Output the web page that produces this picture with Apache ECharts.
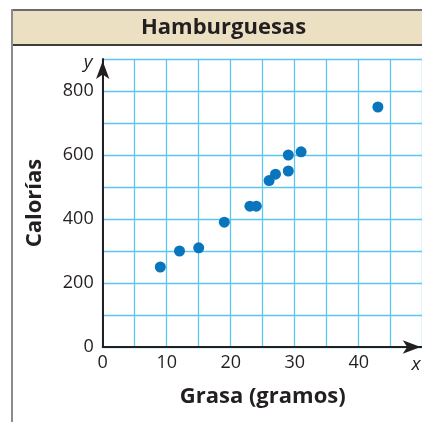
<!DOCTYPE html>
<html>
<head>
<meta charset="utf-8">
<script src="https://cdn.jsdelivr.net/npm/echarts@6/dist/echarts.min.js"></script>
<style>
  html, body { margin: 0; padding: 0; background: #ffffff; }
  #chart { width: 422px; height: 422px; }
</style>
</head>
<body>
<div id="chart"></div>
<script>
// Grasa (g) and calorías for each hamburguesa
const grasa = [9, 12, 15, 19, 23, 24, 26, 27, 29, 29, 31, 43];
const calorias = [250, 300, 310, 390, 440, 440, 520, 540, 600, 550, 610, 750];

const titulo = 'Hamburguesas';
const nombreX = 'Grasa (gramos)';
const nombreY = 'Calorías';
const etiquetasX = ['0', '10', '20', '30', '40'];
const etiquetasY = ['0', '200', '400', '600', '800'];

const FONT = '"Open Sans", "Noto Sans", sans-serif';
const INK = '#231f20';
const GRID = '#5cc6ef';

const puntos = grasa.map((g, i) => [g, calorias[i]]);

const chart = echarts.init(document.getElementById('chart'), null, { renderer: 'canvas' });

chart.setOption({
  animation: false,
  backgroundColor: '#ffffff',
  grid: { left: 102.7, top: 59, width: 320, height: 288, containLabel: false, outerBoundsMode: 'none' },
  xAxis: {
    type: 'value',
    min: 0, max: 50, interval: 5,
    name: nombreX,
    nameLocation: 'middle',
    nameGap: 39,
    nameTextStyle: { fontFamily: FONT, fontSize: 22, fontWeight: 'bold', color: INK },
    axisLine: { show: true, onZero: false, symbol: ['none', 'arrow'], symbolSize: [10, 18], symbolOffset: [0, -2],
      lineStyle: { color: INK, width: 2 } },
    axisTick: { show: false },
    axisLabel: {
      interval: 1, margin: 7, fontFamily: FONT, fontSize: 18, color: INK,
      formatter: v => etiquetasX.includes(String(v)) ? String(v) : ''
    },
    splitLine: { show: true, lineStyle: { color: GRID, width: 1.3 } }
  },
  yAxis: {
    type: 'value',
    min: 0, max: 900, interval: 100,
    name: nombreY,
    nameLocation: 'middle',
    nameGap: 57,
    nameRotate: 90,
    nameTextStyle: { fontFamily: FONT, fontSize: 22, fontWeight: 'bold', color: INK },
    axisLine: { show: true, onZero: false, symbol: ['none', 'arrow'], symbolSize: [10, 18], symbolOffset: [0, -2],
      lineStyle: { color: INK, width: 2 } },
    axisTick: { show: false },
    axisLabel: {
      interval: 1, margin: 9, fontFamily: FONT, fontSize: 18, color: INK,
      formatter: v => etiquetasY.includes(String(v)) ? String(v) : ''
    },
    splitLine: { show: true, lineStyle: { color: GRID, width: 1.3 } }
  },
  graphic: [
    // title band
    { type: 'rect', z: 1, shape: { x: 12, y: 10, width: 420, height: 35 },
      style: { fill: '#ebe0c2' } },
    { type: 'line', z: 2, shape: { x1: 12, y1: 10, x2: 422, y2: 10 },
      style: { stroke: '#6b6b6b', lineWidth: 2 } },
    { type: 'line', z: 2, shape: { x1: 12, y1: 45, x2: 422, y2: 45 },
      style: { stroke: '#3c3c3c', lineWidth: 2 } },
    { type: 'line', z: 2, shape: { x1: 12, y1: 9, x2: 12, y2: 422 },
      style: { stroke: '#8c8c8c', lineWidth: 2 } },
    { type: 'text', z: 3, x: 223.5, y: 28,
      style: { text: titulo, fontFamily: FONT, fontSize: 22, fontWeight: 'bold', fill: INK,
        align: 'center', verticalAlign: 'middle' } },
    // axis letters
    { type: 'text', z: 3, x: 88, y: 63,
      style: { text: 'y', fontFamily: FONT, fontSize: 19, fontStyle: 'italic', fill: INK,
        align: 'center', verticalAlign: 'middle' } },
    { type: 'text', z: 3, x: 416, y: 365,
      style: { text: 'x', fontFamily: FONT, fontSize: 19, fontStyle: 'italic', fill: INK,
        align: 'center', verticalAlign: 'middle' } }
  ],
  series: [{
    type: 'scatter',
    data: puntos,
    symbol: 'circle',
    symbolSize: 11,
    itemStyle: { color: '#0875bd', opacity: 1 },
    z: 5
  }]
});
</script>
</body>
</html>
